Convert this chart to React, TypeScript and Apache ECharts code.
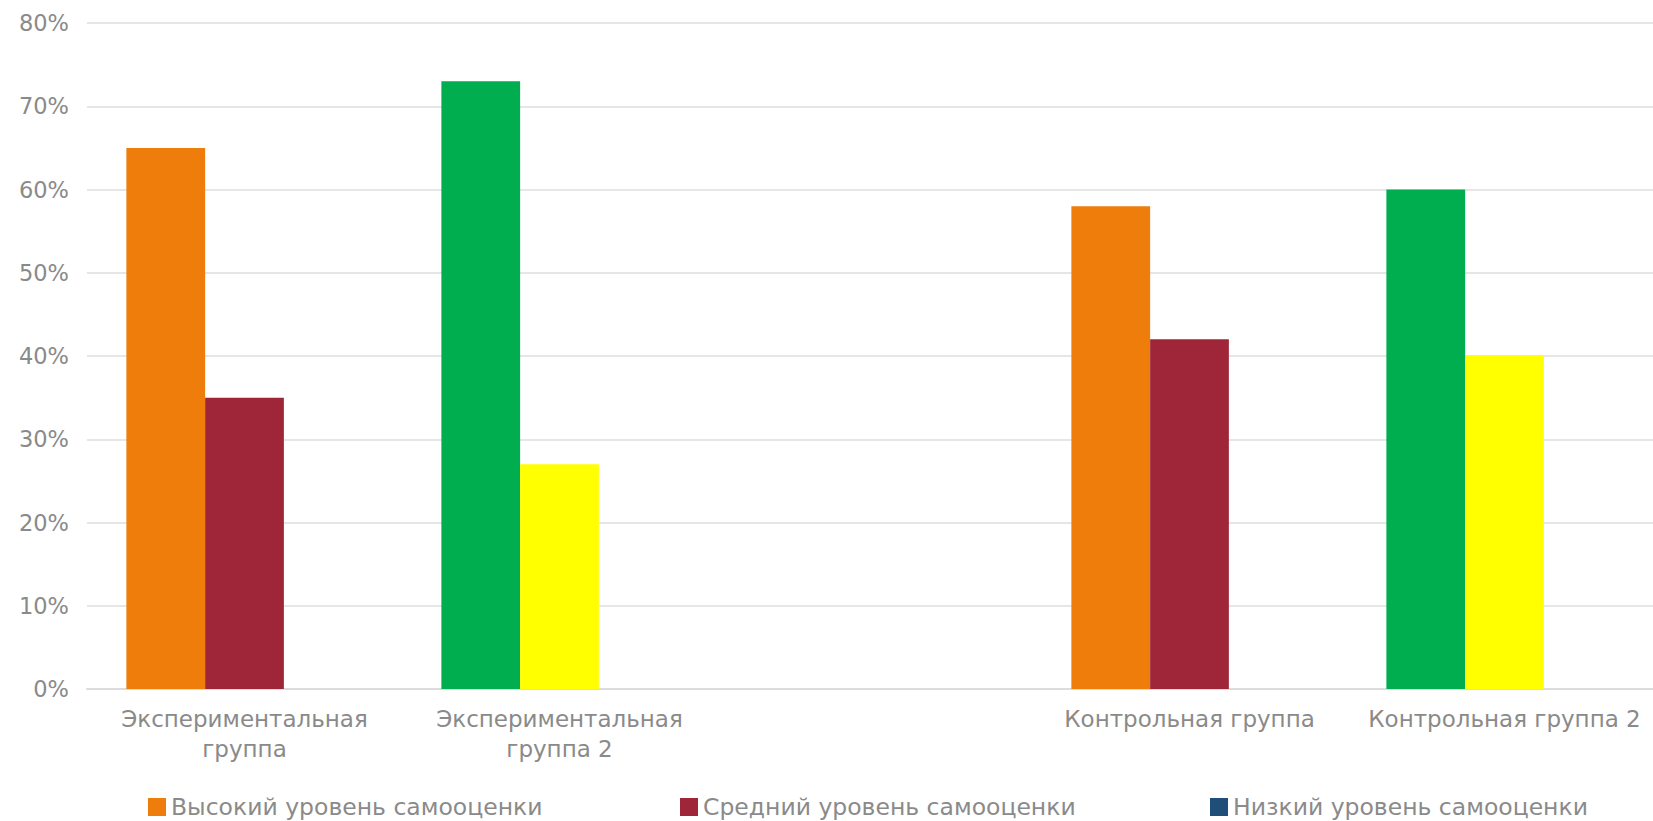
import React, { useEffect, useRef } from "react";
import * as echarts from "echarts";

// Groups on the x axis; the blank entry keeps the gap between the two pairs.
const categories = [
  "Экспериментальная\nгруппа",
  "Экспериментальная\nгруппа 2",
  "",
  "Контрольная группа",
  "Контрольная группа 2",
];

const seriesNames = [
  "Высокий уровень самооценки",
  "Средний уровень самооценки",
  "Низкий уровень самооценки",
];

// Percent of pupils per level
const highLevel = [65, 73, null, 58, 60];
const middleLevel = [35, 27, null, 42, 40];
const lowLevel = [0, 0, null, 0, 0];

const yTicks = [0, 10, 20, 30, 40, 50, 60, 70, 80];

// Colours
const ORANGE = "#EF7D0B";
const CRIMSON = "#9E2638";
const NAVY = "#1F4E79";
const GREEN = "#00AD4F";
const YELLOW = "#FFFF00";
// the "2" groups use the green/yellow pair
const highColors = [ORANGE, GREEN, ORANGE, ORANGE, GREEN];
const middleColors = [CRIMSON, YELLOW, CRIMSON, CRIMSON, YELLOW];

const FONT = "DejaVu Sans";
const TEXT = "#8a8a8a";

export default function App() {
  const ref = useRef<HTMLDivElement>(null);

  useEffect(() => {
    // the plot runs slightly past the right edge of the page, so hide overflow
    document.body.style.margin = "0";
    document.body.style.overflow = "hidden";
    document.documentElement.style.overflow = "hidden";
    if (!ref.current) return;
    const chart = echarts.init(ref.current, null, { renderer: "svg" });

    const colored = (vals: (number | null)[], colors: string[]) =>
      vals.map((v, i) => ({ value: v, itemStyle: { color: colors[i] } }));

    const legendLefts = [148, 680, 1210];

    chart.setOption({
      animation: false,
      backgroundColor: "#ffffff",
      textStyle: { fontFamily: FONT },
      grid: { left: 87, right: 0, top: 23, bottom: 132, containLabel: false },
      legend: seriesNames.map((name, i) => ({
        data: [name],
        left: legendLefts[i],
        top: 795,
        icon: "rect",
        itemWidth: 18,
        itemHeight: 18,
        itemGap: 0,
        padding: 0,
        textStyle: { fontFamily: FONT, fontSize: 23.5, lineHeight: 24, color: TEXT },
        selectedMode: false,
      })),
      xAxis: {
        type: "category",
        data: categories,
        axisTick: { show: false },
        axisLine: { lineStyle: { color: "#dcdcdc", width: 2 } },
        axisLabel: {
          interval: 0,
          color: TEXT,
          fontFamily: FONT,
          fontSize: 23,
          margin: 15,
          lineHeight: 30,
        },
      },
      yAxis: {
        type: "value",
        min: yTicks[0],
        max: yTicks[yTicks.length - 1],
        interval: 10,
        axisLine: { show: false },
        axisTick: { show: false },
        splitLine: { lineStyle: { color: "#e6e6e6", width: 2 } },
        axisLabel: {
          color: TEXT,
          fontFamily: FONT,
          fontSize: 22.5,
          margin: 18,
          formatter: (v: number) => `${v}%`,
        },
      },
      series: [
        {
          name: seriesNames[0],
          type: "bar",
          data: colored(highLevel, highColors),
          itemStyle: { color: ORANGE },
          barGap: "0%",
          barCategoryGap: "25%",
        },
        {
          name: seriesNames[1],
          type: "bar",
          data: colored(middleLevel, middleColors),
          itemStyle: { color: CRIMSON },
        },
        {
          name: seriesNames[2],
          type: "bar",
          data: lowLevel,
          itemStyle: { color: NAVY },
        },
      ],
    });

    return () => chart.dispose();
  }, []);

  return <div ref={ref} style={{ width: 1662, height: 821 }} />;
}
